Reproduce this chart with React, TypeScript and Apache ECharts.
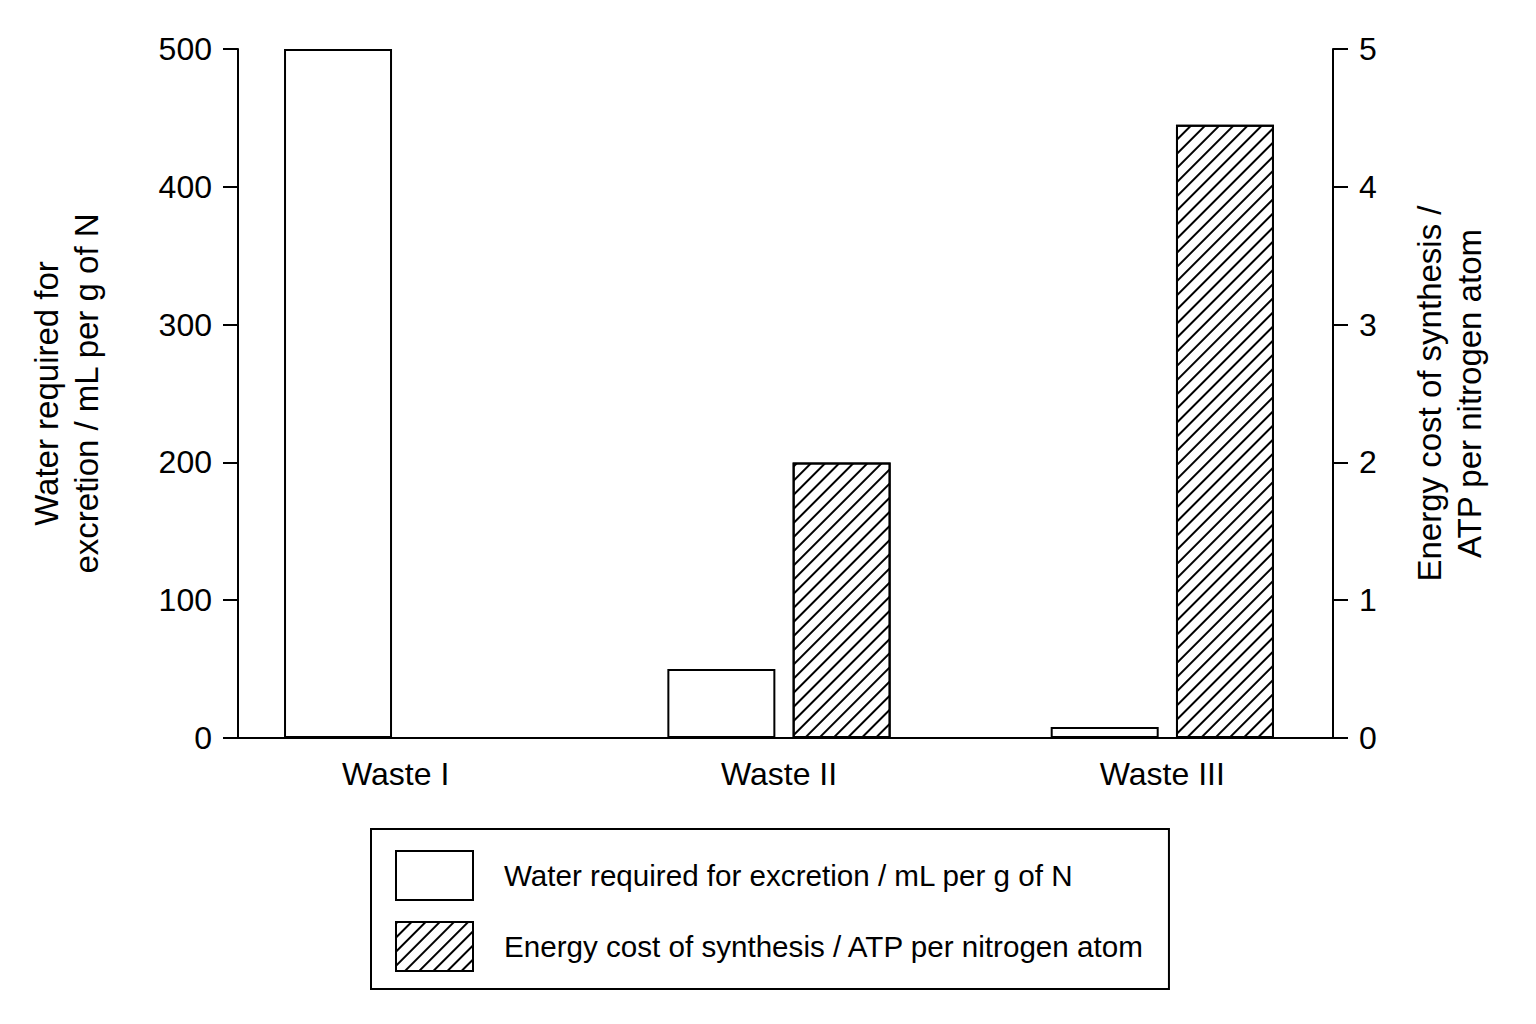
import { useEffect, useRef } from 'react';
import * as echarts from 'echarts';

const categories = ['Waste I', 'Waste II', 'Waste III'];
const waterRequired = [500, 50, 8];
const energyCost: (number | null)[] = [null, 2, 4.45];

const waterName = 'Water required for excretion / mL per g of N';
const energyName = 'Energy cost of synthesis / ATP per nitrogen atom';

const FONT = "'Liberation Sans', Arial, Helvetica, sans-serif";

export default function App() {
  const chartRef = useRef<HTMLDivElement>(null);

  useEffect(() => {
    if (!chartRef.current) return;
    const chart = echarts.init(chartRef.current, null, { renderer: 'svg' });

    const axisLine = { show: true, onZero: false, lineStyle: { color: '#000', width: 2 } };
    const axisTick = { show: true, length: 15, lineStyle: { color: '#000', width: 2 } };
    const tickLabel = { color: '#000', fontSize: 32, fontFamily: FONT, margin: 26 };
    const titleStyle = { color: '#000', fontSize: 33, lineHeight: 40, fontFamily: FONT, align: 'center' };

    chart.setOption({
      animation: false,
      backgroundColor: '#fff',
      // grid 0 holds the visible axes, grid 1 positions the bar groups
      grid: [
        { left: 238, right: 203, top: 49, bottom: 286 },
        { left: 204, right: 182, top: 49, bottom: 286 },
      ],
      xAxis: [
        {
          gridIndex: 0,
          type: 'value',
          min: 0,
          max: 1,
          axisLine: { show: true, onZero: false, lineStyle: { color: '#000', width: 2 } },
          axisTick: { show: false },
          axisLabel: { show: false },
          splitLine: { show: false },
        },
        {
          gridIndex: 1,
          type: 'category',
          data: categories,
          axisLine: { show: false },
          axisTick: { show: false },
          axisLabel: { color: '#000', fontSize: 32, fontFamily: FONT, margin: 20 },
        },
      ],
      yAxis: [
        {
          gridIndex: 0,
          type: 'value',
          position: 'left',
          min: 0,
          max: 500,
          interval: 100,
          axisLine,
          axisTick,
          axisLabel: tickLabel,
          splitLine: { show: false },
          name: 'Water required for\nexcretion / mL per g of N',
          nameLocation: 'middle',
          nameRotate: 90,
          nameGap: 132,
          nameTextStyle: titleStyle,
        },
        {
          gridIndex: 0,
          type: 'value',
          position: 'right',
          min: 0,
          max: 5,
          interval: 1,
          axisLine,
          axisTick,
          axisLabel: tickLabel,
          splitLine: { show: false },
          name: 'Energy cost of synthesis /\nATP per nitrogen atom',
          nameLocation: 'middle',
          nameRotate: 90,
          nameGap: 76,
          nameTextStyle: titleStyle,
        },
        { gridIndex: 1, type: 'value', min: 0, max: 500, show: false },
        { gridIndex: 1, type: 'value', min: 0, max: 5, show: false },
      ],
      legend: {
        orient: 'vertical',
        left: 371,
        top: 829,
        padding: [21, 24, 17, 24],
        itemWidth: 77,
        itemHeight: 49,
        itemGap: 20,
        icon: 'rect',
        borderColor: '#000',
        borderWidth: 2,
        textStyle: { color: '#000', fontSize: 29.6, fontFamily: FONT, padding: [0, 0, 0, 26] },
        data: [waterName, energyName],
      },
      series: [
        {
          name: waterName,
          type: 'bar',
          xAxisIndex: 1,
          yAxisIndex: 2,
          data: waterRequired,
          barWidth: 108,
          barGap: '16%',
          itemStyle: { color: '#fff', borderColor: '#000', borderWidth: 2 },
        },
        {
          name: energyName,
          type: 'bar',
          xAxisIndex: 1,
          yAxisIndex: 3,
          data: energyCost,
          barWidth: 98,
          barGap: '16%',
          itemStyle: {
            color: '#fff',
            borderColor: '#000',
            borderWidth: 2,
            decal: {
              symbol: 'rect',
              symbolSize: 1,
              dashArrayX: [1, 0],
              dashArrayY: [2, 8],
              rotation: -Math.PI / 4,
              color: '#000',
              backgroundColor: '#fff',
            },
          },
        },
      ],
    });

    return () => {
      chart.dispose();
    };
  }, []);

  return (
    <div
      ref={chartRef}
      style={{ position: 'fixed', left: 0, top: 0, width: '1536px', height: '1024px', background: '#fff' }}
    />
  );
}
